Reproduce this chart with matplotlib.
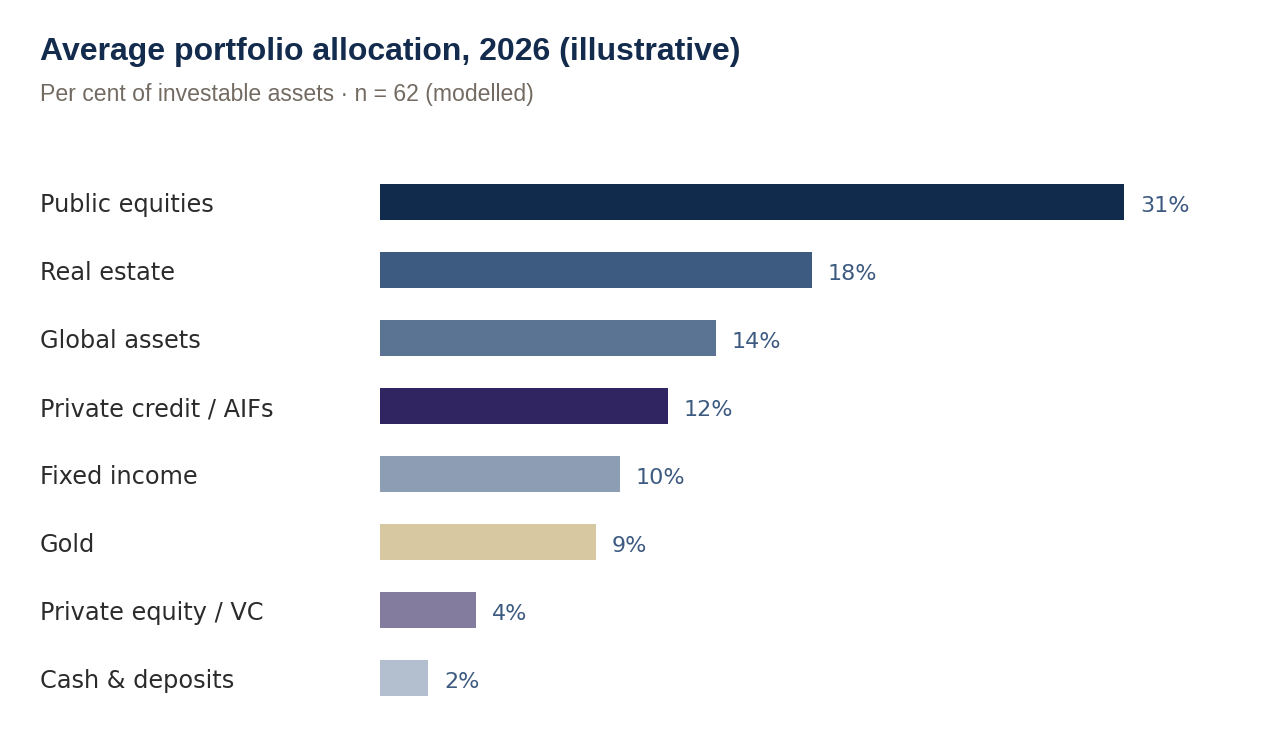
import matplotlib
matplotlib.use("Agg")
import matplotlib.pyplot as plt
from matplotlib.transforms import blended_transform_factory

# dati
categories = ["Public equities", "Real estate", "Global assets", "Private credit / AIFs",
              "Fixed income", "Gold", "Private equity / VC", "Cash & deposits"]
values = [31, 18, 14, 12, 10, 9, 4, 2]
colors = ["#112b4c", "#3d5b80", "#5b7493", "#302560",
          "#8c9db4", "#d8c8a2", "#847c9f", "#b3bfcf"]

W, H = 1280, 756
fig = plt.figure(figsize=(W / 100, H / 100), dpi=100)
fig.patch.set_facecolor("white")

# asse: 24 px per punto percentuale, barre ogni 68 px
ax = fig.add_axes([380 / W, (H - 712) / H, 840 / W, 544 / H])
y = list(range(len(categories)))
ax.barh(y, values, height=36 / 68, color=colors)
ax.set_xlim(0, 35)
ax.set_ylim(len(categories) - 0.5, -0.5)
ax.axis("off")

# linea di base del testo 10 px sotto il centro della barra
base = -10 * 0.72

# etichette delle categorie a sinistra
tr = blended_transform_factory(fig.transFigure, ax.transData)
for i, c in enumerate(categories):
    ax.annotate(c, (40 / W, i), xycoords=tr, xytext=(0, base),
                textcoords="offset points", ha="left", va="baseline",
                fontsize=17.3, color="#2b2b2b", family="DejaVu Sans")

# valori alla fine delle barre
for i, v in enumerate(values):
    ax.annotate(f"{v}%", (v, i), xytext=(11.5, base), textcoords="offset points",
                ha="left", va="baseline", fontsize=16, color="#3d5a80",
                family="DejaVu Sans")

# titolo e sottotitolo
fig.text(40 / W, 1 - 60 / H, "Average portfolio allocation, 2026 (illustrative)",
         ha="left", va="baseline", fontsize=23, fontweight="bold",
         color="#132b4c", family="Liberation Sans")
fig.text(40 / W, 1 - 101 / H, "Per cent of investable assets \u00b7 n = 62 (modelled)",
         ha="left", va="baseline", fontsize=16.6, color="#736b62",
         family="Liberation Sans")

fig.savefig("out.png", dpi=100)
